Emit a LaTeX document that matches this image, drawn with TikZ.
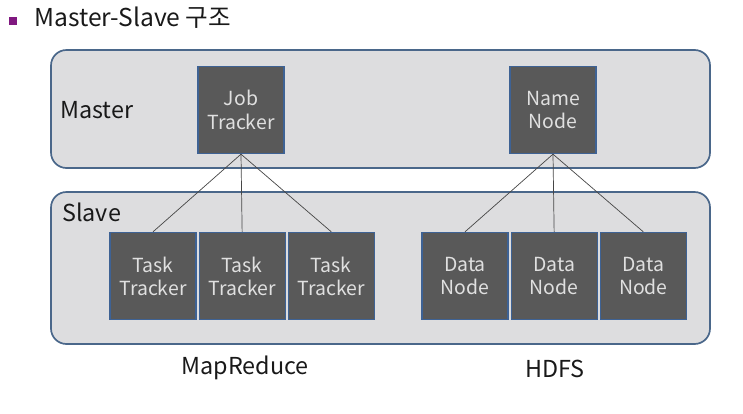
\documentclass[tikz,border=0pt]{standalone}
\usepackage{fontspec}
\setmainfont{Noto Sans CJK KR}
\usepackage{xcolor}
\usetikzlibrary{positioning,calc}
\definecolor{PanelGray}{RGB}{221,221,223}
\definecolor{PanelEdge}{RGB}{74,103,138}
\definecolor{BoxGray}{RGB}{89,89,89}
\definecolor{BoxEdge}{RGB}{62,98,148}
\definecolor{BulletPurple}{RGB}{128,24,128}
\definecolor{LinkGray}{RGB}{70,70,70}
\tikzset{
  panel/.style={draw=PanelEdge,fill=PanelGray,rounded corners=11pt,line width=1.2pt},
  dbox/.style={draw=BoxEdge,fill=BoxGray,minimum width=2.15cm,minimum height=2.18cm,
               align=center,text=white!88!black,line width=0.8pt,inner sep=0pt,
               font=\fontsize{13.8}{16.5}\selectfont},
  lbl/.style={font=\fontsize{16.6}{20}\selectfont,text=black!90,inner sep=0pt},
  link/.style={LinkGray,line width=0.5pt},
}
\begin{document}
\begin{tikzpicture}[x=0.025cm, y=-0.025cm]
\useasboundingbox (0,0) rectangle (743,414);
% title
\node[fill=BulletPurple,minimum size=0.18cm,inner sep=0pt] (bul) at (13,21) {};
\node[lbl,anchor=west,font=\fontsize{17.5}{21}\selectfont] (title) at (34,18) {Master-Slave 구조};
% panels
\draw[panel] (51,50) rectangle (710,168);
\draw[panel] (51,192) rectangle (710,344);
\node[lbl,anchor=west] (master) at (60,110) {Master};
\node[lbl,anchor=west] (slave) at (62,212) {Slave};
% master nodes
\node[dbox] (jt) at (241,110) {Job\\Tracker};
\node[dbox] (nn) at (553,110) {Name\\Node};
% slave nodes
\node[dbox] (tt1) at (153,276) {Task\\Tracker};
\node[dbox, right=0.05cm of tt1] (tt2) {Task\\Tracker};
\node[dbox, right=0.05cm of tt2] (tt3) {Task\\Tracker};
\node[dbox] (dn1) at (465,276) {Data\\Node};
\node[dbox, right=0.05cm of dn1] (dn2) {Data\\Node};
\node[dbox, right=0.05cm of dn2] (dn3) {Data\\Node};
% links
\foreach \t in {tt1,tt2,tt3}
  \draw[link] (jt.south) -- (\t.north);
\foreach \d in {dn1,dn2,dn3}
  \draw[link] (nn.south) -- (\d.north);
% captions
\node[lbl] (mr) at (245,368) {MapReduce};
\node[lbl] (hdfs) at (555,369) {HDFS};
\end{tikzpicture}
\end{document}
